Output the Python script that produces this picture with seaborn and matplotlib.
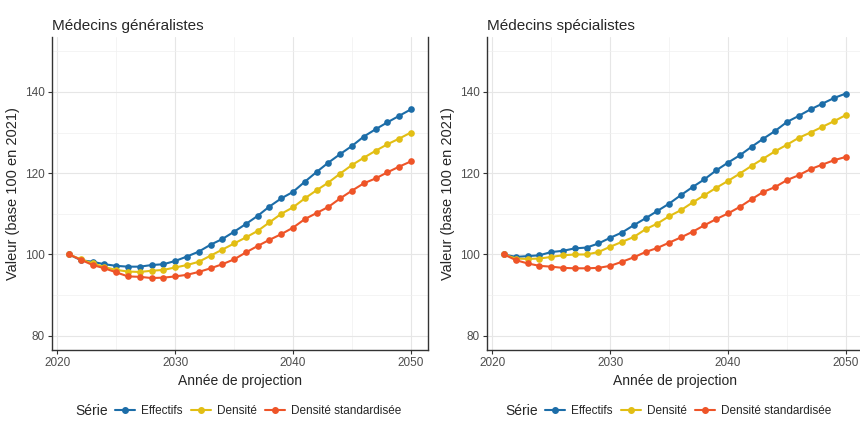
import numpy as np
import pandas as pd
import matplotlib
matplotlib.use("Agg")
import matplotlib.pyplot as plt
from matplotlib.ticker import MultipleLocator
import seaborn as sns

years = list(range(2021, 2051))

# Médecins généralistes
gen_effectifs = [100.0, 98.6, 98.2, 97.6, 97.2, 97.0, 97.0, 97.4, 97.6, 98.4,
                 99.5, 100.7, 102.4, 103.8, 105.6, 107.5, 109.5, 111.8, 113.8, 115.4,
                 117.9, 120.3, 122.6, 124.7, 126.7, 129.0, 130.8, 132.5, 134.1, 135.7]
gen_densite = [100.0, 98.8, 97.8, 96.9, 96.2, 95.8, 95.7, 96.0, 96.2, 96.8,
               97.4, 98.2, 99.7, 101.2, 102.7, 104.2, 105.8, 107.9, 110.0, 111.6,
               113.8, 115.8, 117.7, 119.9, 122.0, 123.8, 125.5, 127.1, 128.5, 130.0]
gen_standard = [100.0, 98.7, 97.4, 96.6, 95.6, 94.6, 94.5, 94.2, 94.3, 94.6,
                95.0, 95.7, 96.6, 97.6, 98.8, 100.5, 102.1, 103.6, 105.0, 106.6,
                108.7, 110.2, 111.7, 113.8, 115.7, 117.5, 118.7, 120.2, 121.6, 122.9]

# Médecins spécialistes
spe_effectifs = [100.0, 99.4, 99.6, 99.8, 100.6, 100.9, 101.5, 101.7, 102.7, 104.1,
                 105.4, 107.2, 108.9, 110.7, 112.5, 114.6, 116.6, 118.5, 120.7, 122.6,
                 124.4, 126.5, 128.5, 130.4, 132.6, 134.1, 135.7, 137.1, 138.5, 139.6]
spe_densite = [100.0, 99.0, 98.9, 99.0, 99.4, 99.8, 100.0, 100.0, 100.6, 101.9,
               103.1, 104.3, 106.2, 107.6, 109.4, 110.9, 112.8, 114.6, 116.4, 118.1,
               119.9, 121.8, 123.6, 125.4, 127.0, 128.7, 130.0, 131.4, 132.8, 134.3]
spe_standard = [100.0, 98.6, 97.8, 97.2, 97.0, 96.7, 96.6, 96.6, 96.7, 97.2,
                98.2, 99.3, 100.6, 101.6, 102.9, 104.2, 105.6, 107.2, 108.7, 110.1,
                111.7, 113.6, 115.4, 116.6, 118.3, 119.5, 121.0, 122.1, 123.2, 124.0]

series_names = ["Effectifs", "Densité", "Densité standardisée"]
palette = ["#1C6DA8", "#E2BE14", "#EE5428"]
panel_titles = ["Médecins généralistes", "Médecins spécialistes"]

def long_df(effectifs, densite, standard):
    frames = []
    for name, vals in zip(series_names, [effectifs, densite, standard]):
        frames.append(pd.DataFrame({"Année": years, "Valeur": vals, "Série": name}))
    return pd.concat(frames, ignore_index=True)

panels = [long_df(gen_effectifs, gen_densite, gen_standard),
          long_df(spe_effectifs, spe_densite, spe_standard)]

sns.set_style("white")
plt.rcParams["font.family"] = ["Liberation Sans", "DejaVu Sans"]

fig = plt.figure(figsize=(8.6, 4.28), dpi=100)
axes_rects = [[52 / 860, 78 / 428, 376 / 860, 313 / 428],
              [487 / 860, 78 / 428, 376 / 860, 313 / 428]]

for i, (df, title) in enumerate(zip(panels, panel_titles)):
    ax = fig.add_axes(axes_rects[i])
    sns.lineplot(data=df, x="Année", y="Valeur", hue="Série", hue_order=series_names,
                 palette=palette, marker="o", markersize=4.8, markeredgewidth=0,
                 linewidth=1.5, ax=ax, legend=False)
    ax.set_xlim(2019.55, 2051.45)
    ax.set_ylim(76.5, 153.5)
    ax.xaxis.set_major_locator(MultipleLocator(10))
    ax.xaxis.set_minor_locator(MultipleLocator(5))
    ax.yaxis.set_major_locator(MultipleLocator(20))
    ax.yaxis.set_minor_locator(MultipleLocator(10))
    ax.grid(which="major", color="#e6e6e6", linewidth=0.8)
    ax.grid(which="minor", color="#f0f0f0", linewidth=0.5)
    ax.set_axisbelow(True)
    for side in ["left", "bottom", "right"]:
        ax.spines[side].set_visible(True)
        ax.spines[side].set_color("#333333")
        ax.spines[side].set_linewidth(1.0)
    ax.spines["top"].set_visible(False)
    ax.tick_params(axis="both", which="major", direction="out", length=3, width=0.8,
                   color="#333333", labelcolor="#4d4d4d", labelsize=8.5, pad=2,
                   bottom=True, left=True)
    ax.tick_params(axis="both", which="minor", length=0)
    ax.set_xlabel("Année de projection", fontsize=10, labelpad=4)
    ax.set_ylabel("Valeur (base 100 en 2021)", fontsize=10.5, labelpad=4)
    ax.set_title(title, loc="left", fontsize=11, pad=5)

    # legend below each panel
    handles = [plt.Line2D([], [], color=c, marker="o", markersize=4, linewidth=1.5)
               for c in palette]
    x0 = [75 / 860, 505 / 860][i]
    fig.text(x0, 0.039, "Série", fontsize=10, va="center", ha="left")
    fig.legend(handles, series_names, loc="center left", bbox_to_anchor=(x0 + 40 / 860, 0.039),
               ncol=3, frameon=False, fontsize=8.5, handlelength=1.7, handletextpad=0.5,
               columnspacing=0.7, borderaxespad=0, borderpad=0)

fig.savefig("out.png", dpi=100)
